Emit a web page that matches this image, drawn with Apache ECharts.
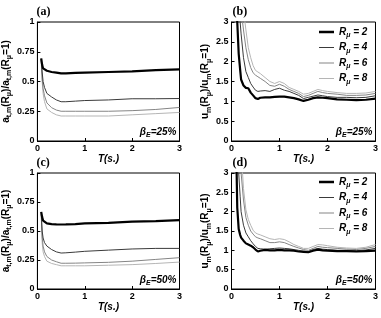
<!DOCTYPE html>
<html>
<head>
<meta charset="utf-8">
<script src="https://cdn.jsdelivr.net/npm/echarts@6/dist/echarts.min.js"></script>
<style>
html,body{margin:0;padding:0;background:#fff}
#chart{width:381px;height:318px}
</style>
</head>
<body>
<div id="chart"></div>
<script>
// periods for the acceleration ratio panels (a), (c)
var T_ACC = [0.08, 0.1, 0.12, 0.15, 0.2, 0.3, 0.4, 0.5, 0.6, 0.8, 1.0, 1.5, 2.0, 2.5, 3.0];
// (a) beta_E = 25%
var A_R2 = [0.695, 0.64, 0.61, 0.6, 0.59, 0.58, 0.575, 0.568, 0.568, 0.572, 0.575, 0.58, 0.585, 0.595, 0.602];
var A_R4 = [0.69, 0.58, 0.5, 0.45, 0.4, 0.37, 0.345, 0.33, 0.33, 0.335, 0.34, 0.345, 0.355, 0.355, 0.357];
var A_R6 = [0.68, 0.53, 0.44, 0.38, 0.32, 0.28, 0.26, 0.25, 0.25, 0.25, 0.25, 0.25, 0.255, 0.265, 0.282];
var A_R8 = [0.67, 0.5, 0.4, 0.33, 0.27, 0.24, 0.22, 0.21, 0.21, 0.21, 0.21, 0.21, 0.22, 0.23, 0.24];
// (c) beta_E = 50%
var C_R2 = [0.665, 0.62, 0.59, 0.575, 0.565, 0.56, 0.557, 0.556, 0.557, 0.56, 0.565, 0.57, 0.58, 0.585, 0.594];
var C_R4 = [0.66, 0.5, 0.44, 0.4, 0.37, 0.34, 0.32, 0.31, 0.312, 0.318, 0.325, 0.335, 0.345, 0.35, 0.35];
var C_R6 = [0.65, 0.45, 0.37, 0.32, 0.28, 0.25, 0.235, 0.222, 0.222, 0.223, 0.225, 0.23, 0.24, 0.255, 0.27];
var C_R8 = [0.64, 0.4, 0.32, 0.28, 0.24, 0.22, 0.21, 0.2, 0.2, 0.2, 0.2, 0.205, 0.21, 0.22, 0.232];

// periods for the displacement ratio panels (b), (d)
var T_DSP = [0.1, 0.12, 0.15, 0.18, 0.2, 0.25, 0.3, 0.35, 0.4, 0.45, 0.5, 0.55, 0.6, 0.7, 0.8, 0.9, 1.0,
  1.1, 1.2, 1.3, 1.4, 1.5, 1.6, 1.7, 1.8, 1.9, 2.0, 2.2, 2.4, 2.6, 2.8, 3.0];
// (b) beta_E = 25%
var B_R2 = [3.6, 3.0, 2.2, 1.8, 1.55, 1.4, 1.34, 1.33, 1.22, 1.15, 1.08, 1.06, 1.09, 1.1, 1.1, 1.11, 1.12,
  1.12, 1.1, 1.08, 1.05, 1.01, 1.04, 1.08, 1.1, 1.09, 1.08, 1.05, 1.04, 1.03, 1.04, 1.07];
var B_R4 = [5.0, 4.5, 3.6, 3.0, 2.7, 2.1, 1.75, 1.6, 1.45, 1.36, 1.28, 1.25, 1.26, 1.27, 1.25, 1.3, 1.33,
  1.28, 1.25, 1.2, 1.15, 1.07, 1.1, 1.13, 1.16, 1.14, 1.12, 1.1, 1.1, 1.09, 1.1, 1.14];
var B_R6 = [6.0, 5.4, 4.6, 3.9, 3.3, 2.8, 2.35, 2.05, 1.85, 1.72, 1.66, 1.62, 1.58, 1.5, 1.4, 1.38, 1.43,
  1.38, 1.3, 1.25, 1.2, 1.12, 1.15, 1.2, 1.25, 1.22, 1.2, 1.18, 1.15, 1.15, 1.16, 1.2];
var B_R8 = [7.0, 6.4, 5.6, 4.8, 4.2, 3.3, 2.8, 2.35, 2.1, 1.9, 1.78, 1.74, 1.7, 1.6, 1.5, 1.45, 1.5,
  1.45, 1.35, 1.3, 1.25, 1.18, 1.2, 1.25, 1.3, 1.27, 1.25, 1.22, 1.2, 1.2, 1.21, 1.25];
// (d) beta_E = 50%
var D_R2 = [3.5, 2.1, 1.55, 1.4, 1.33, 1.25, 1.18, 1.15, 1.12, 1.08, 1.02, 0.97, 0.99, 1.01, 1.0, 1.0, 1.01,
  1.0, 1.0, 0.99, 0.97, 0.96, 0.95, 0.99, 1.02, 1.0, 0.99, 0.98, 0.98, 0.97, 0.98, 0.99];
var D_R4 = [5.0, 4.0, 3.0, 2.4, 2.0, 1.65, 1.45, 1.35, 1.25, 1.17, 1.1, 1.05, 1.04, 1.03, 1.04, 1.05, 1.06,
  1.05, 1.04, 1.02, 1.0, 0.98, 0.97, 1.02, 1.05, 1.03, 1.02, 1.0, 1.0, 0.99, 1.01, 1.05];
var D_R6 = [6.0, 5.0, 4.0, 3.4, 3.0, 2.3, 1.85, 1.65, 1.5, 1.42, 1.35, 1.32, 1.3, 1.25, 1.2, 1.2, 1.22,
  1.2, 1.15, 1.1, 1.06, 1.02, 1.0, 1.05, 1.1, 1.08, 1.07, 1.05, 1.03, 1.02, 1.05, 1.1];
var D_R8 = [7.0, 6.0, 4.8, 4.0, 3.6, 2.6, 2.05, 1.8, 1.65, 1.52, 1.45, 1.42, 1.4, 1.35, 1.3, 1.28, 1.3,
  1.28, 1.22, 1.15, 1.1, 1.05, 1.05, 1.1, 1.15, 1.14, 1.12, 1.08, 1.06, 1.05, 1.08, 1.15];

var R_NAMES = ['R2', 'R4', 'R6', 'R8'];
var BETA = ['25%', '25%', '50%', '50%'];
var PANELS = ['(a)', '(b)', '(c)', '(d)'];

var F = '"Liberation Sans", Arial, sans-serif';
var LINE_COL = ['#000000', '#3a3a3a', '#858585', '#b5b5b5'];
var LINE_W = [2.2, 1, 1, 1];

var chart = echarts.init(document.getElementById('chart'));

var grids = [
  {left: 35.5, top: 22, width: 144, height: 119},
  {left: 231.5, top: 22, width: 144, height: 119},
  {left: 35.5, top: 173, width: 144, height: 116},
  {left: 231.5, top: 173, width: 144, height: 116}
];
grids.forEach(function(g){ g.show = true; g.borderColor = '#000'; g.borderWidth = 1; g.containLabel = false; });

var nameRich = {
  n: {fontSize: 10, fontWeight: 'bold', fontFamily: F, color: '#000'},
  s: {fontSize: 7, fontWeight: 'bold', fontFamily: F, color: '#000', padding: [7, 0, 0, 0]}
};
var Y_NAME_ACC = '{n|a}{s|t,m}{n|(R}{s|μ}{n|)/a}{s|t,m}{n|(R}{s|μ}{n|=1)}';
var Y_NAME_DSP = '{n|u}{s|m}{n|(R}{s|μ}{n|)/u}{s|m}{n|(R}{s|μ}{n|=1)}';

function xAx(i){
  return {
    gridIndex: i, type: 'value', min: 0, max: 3, interval: 1,
    name: 'T(s.)', nameLocation: 'middle', nameGap: 9,
    nameTextStyle: {fontSize: 10, fontWeight: 'bold', fontStyle: 'italic', color: '#000', fontFamily: F},
    axisLine: {onZero: false, lineStyle: {color: '#000'}},
    axisTick: {inside: true, length: 3, lineStyle: {color: '#000'}},
    axisLabel: {fontSize: 9, fontWeight: 'bold', color: '#000', margin: 3, fontFamily: F},
    splitLine: {show: false}
  };
}
function yAx(i, max, step, nm, gap){
  return {
    gridIndex: i, type: 'value', min: 0, max: max, interval: step,
    name: nm, nameLocation: 'middle', nameGap: gap,
    nameTextStyle: {rich: nameRich},
    axisLine: {onZero: false, lineStyle: {color: '#000'}},
    axisTick: {inside: true, length: 3, lineStyle: {color: '#000'}},
    axisLabel: {fontSize: 9, fontWeight: 'bold', color: '#000', margin: 3, fontFamily: F},
    splitLine: {show: false}
  };
}

function pairs(xs, ys){
  return xs.map(function(x, i){ return [x, ys[i]]; });
}

var panelData = [
  [T_ACC, [A_R2, A_R4, A_R6, A_R8]],
  [T_DSP, [B_R2, B_R4, B_R6, B_R8]],
  [T_ACC, [C_R2, C_R4, C_R6, C_R8]],
  [T_DSP, [D_R2, D_R4, D_R6, D_R8]]
];

var series = [];
panelData.forEach(function(p, gi){
  for (var k = 0; k < 4; k++) {
    series.push({
      name: R_NAMES[k], type: 'line', xAxisIndex: gi, yAxisIndex: gi,
      data: pairs(p[0], p[1][k]), symbol: 'none', clip: true,
      lineStyle: {color: LINE_COL[k], width: LINE_W[k]},
      itemStyle: {color: LINE_COL[k]},
      z: 10 - k
    });
  }
});

// legend line icons: a bar across the middle, with tiny corner dots to keep the 15x10 box
function lineIcon(h){
  var y0 = 5 - h / 2;
  return 'path://M0,0h0.01v0.01h-0.01z M0,' + y0 + 'h15v' + h + 'h-15z M14.99,9.99h0.01v0.01h-0.01z';
}
var legRich = {
  r: {fontSize: 10, fontWeight: 'bold', fontStyle: 'italic', fontFamily: F, color: '#000'},
  s: {fontSize: 7, fontWeight: 'bold', fontStyle: 'italic', fontFamily: F, color: '#000', padding: [7, 0, 0, 0]}
};
function legend(top){
  return {
    show: true, orient: 'vertical', left: 319, top: top,
    data: R_NAMES.map(function(n, k){ return {name: n, icon: lineIcon(k === 0 ? 2.4 : 1)}; }),
    itemWidth: 15, itemHeight: 10, itemGap: 3.5, padding: 0,
    selectedMode: false,
    formatter: function(n){ return '{r|R}{s|μ}{r| = ' + n.slice(1) + '}'; },
    textStyle: {rich: legRich}
  };
}

var betaRich = {
  b: {fontSize: 10, fontWeight: 'bold', fontStyle: 'italic', fontFamily: F, color: '#000'},
  s: {fontSize: 7, fontWeight: 'bold', fontStyle: 'italic', fontFamily: F, color: '#000', padding: [7, 0, 0, 0]}
};
var graphics = [];
grids.forEach(function(g, i){
  graphics.push({
    type: 'text', x: g.left + 1, y: g.top - 10,
    style: {text: PANELS[i], font: 'bold 12px "Liberation Serif", "Times New Roman", serif', fill: '#000',
      textAlign: 'left', textVerticalAlign: 'middle'}
  });
  graphics.push({
    type: 'text', x: g.left + g.width - 3, y: g.top + g.height - 9,
    style: {text: '{b|β}{s|E}{b|=' + BETA[i] + '}', rich: betaRich, textAlign: 'right', textVerticalAlign: 'middle'}
  });
});

var option = {
  animation: false,
  grid: grids,
  xAxis: [xAx(0), xAx(1), xAx(2), xAx(3)],
  yAxis: [
    yAx(0, 1, 0.25, Y_NAME_ACC, 16),
    yAx(1, 3, 0.5, Y_NAME_DSP, 14),
    yAx(2, 1, 0.25, Y_NAME_ACC, 16),
    yAx(3, 3, 0.5, Y_NAME_DSP, 14)
  ],
  legend: [legend(27), legend(177)],
  series: series,
  graphic: graphics
};
chart.setOption(option);
</script>
</body>
</html>
